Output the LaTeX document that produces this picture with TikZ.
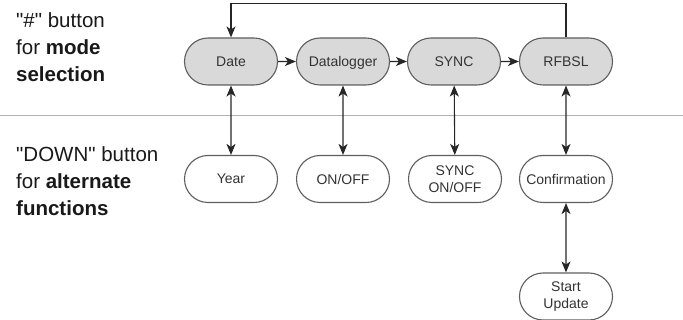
\documentclass[tikz,border=0pt]{standalone}
\usepackage{fontspec}
\setmainfont{Liberation Sans}[Ligatures=TeXOff]
\usetikzlibrary{shapes.misc,arrows.meta}
\definecolor{boxline}{HTML}{5E5E5E}
\definecolor{boxfill}{HTML}{D9D9D9}
\definecolor{txt}{HTML}{333333}
\tikzset{
  state/.style={rounded rectangle, draw=boxline, line width=1.1pt, minimum width=95pt, minimum height=47pt, inner sep=1pt, font=\fontsize{14}{17.5}\selectfont, text=txt, align=center},
  one/.style={text depth=0pt},
  mode/.style={state, one, fill=boxfill},
  alt/.style={state, fill=white},
  tip/.tip={Stealth[length=11pt,width=9pt,inset=3pt]},
  arr/.style={draw=black!85, line width=1.1pt, -tip},
  darr/.style={draw=black!85, line width=1.1pt, tip-tip},
  side/.style={anchor=north west, align=left, font=\fontsize{20.5}{27}\selectfont, text=black!90, inner sep=0pt}
}
\begin{document}
\begin{tikzpicture}[x=1pt,y=-1pt]
\useasboundingbox (0,0) rectangle (683,320);
% separator
\draw[draw=black!30, line width=0.9pt] (0,115) -- (683,115);
% side labels
\node[side] (lab1) at (16,12.5) {"\#" button\\for \textbf{mode}\\\textbf{selection}};
\node[side] (lab2) at (16,146.5) {"DOWN" button\\for \textbf{alternate}\\\textbf{functions}};
% top row
\node[mode] (date) at (231,61.5) {Date};
\node[mode] (dlog) at (343,61.5) {Datalogger};
\node[mode] (sync) at (454,61.5) {SYNC};
\node[mode] (rfbsl) at (566,61.5) {RFBSL};
% bottom row
\node[alt, one] (year) at (231,179) {Year};
\node[alt, one] (onoff) at (343,179) {ON/OFF};
\node[alt] (synconoff) at (455,179) {SYNC\\ON/OFF};
\node[alt, one] (conf) at (566,179) {Confirmation};
\node[alt] (start) at (566,296.5) {Start\\Update};
% connectors
\draw[arr] (date) -- (dlog);
\draw[arr] (dlog) -- (sync);
\draw[arr] (sync) -- (rfbsl);
\coordinate (loopL) at (231,3.5);
\draw[arr] (rfbsl.north) |- (loopL) -- (date.north);
\draw[darr] (date) -- (year);
\draw[darr] (dlog) -- (onoff);
\draw[darr] (sync) -- (synconoff);
\draw[darr] (rfbsl) -- (conf);
\draw[darr] (conf) -- (start);
\end{tikzpicture}
\end{document}
